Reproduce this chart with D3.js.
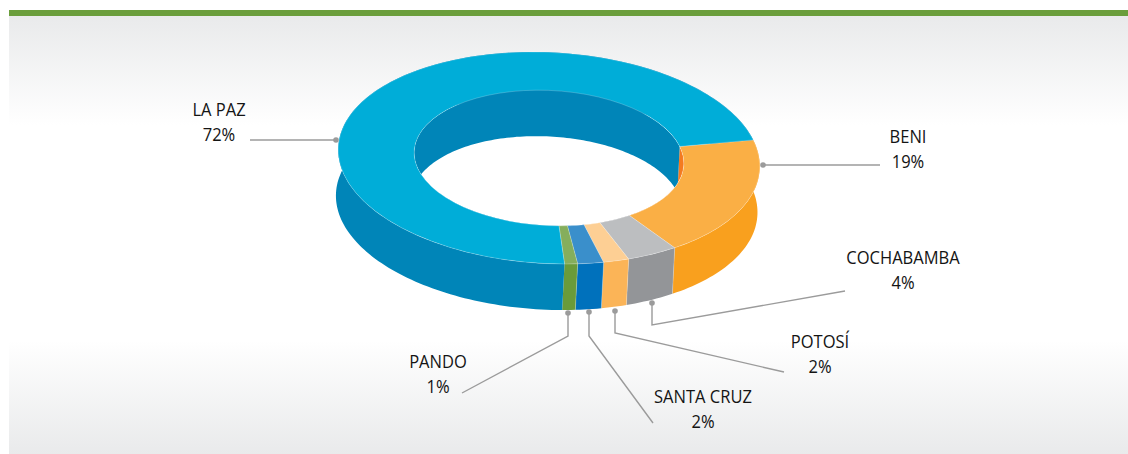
<!DOCTYPE html>
<html><head><meta charset="utf-8">
<script src="https://cdn.jsdelivr.net/npm/d3@7/dist/d3.min.js"></script>
<style>html,body{margin:0;padding:0;background:#fff}svg{display:block}text{font-family:"Open Sans",sans-serif;font-size:17.4px;fill:#141414;text-anchor:middle}</style>
</head><body><div id="c"></div>
<script>
const categories = ["BENI","COCHABAMBA","POTOSÍ","SANTA CRUZ","PANDO","LA PAZ"];
const values = [18.8,4,2,2,1,72.2];
const topColors = ["#FAAF45","#BCBEC0","#FDCF94","#3A8FCB","#85AE5C","#00ADD8"];
const wallColors = ["#F9A01E","#939598","#FBB457","#0071BC","#6A9B3A","#0085B8"];
const innerColors = ["#F47B20","#939598","#FBB457","#0071BC","#6A9B3A","#0085B8"];
const labelAnchors = [[908,143],[903,264],[820,348],[703,403],[438,368],[219,116]];
const leaders = [
 [[763,165],[880,165]],
 [[652,303],[652,325],[845,291]],
 [[615,311],[615,333],[784,372]],
 [[589,312],[589,336],[653,423]],
 [[568,313],[568,336],[462,393]],
 [[336,140],[250,140]]
];
const W=1128,H=454,cx=549,cy=158,rx=211,ry=105.6,tilt=3,hole=0.64,depth=46,shear=-2.3,startDeg=74.2;
const svg=d3.select("#c").append("svg").attr("width",W).attr("height",H);
const defs=svg.append("defs");
const g=defs.append("linearGradient").attr("id","bg").attr("x1",0).attr("x2",0).attr("y1",0).attr("y2",1);
[[0,"#e9eaeb"],[0.25,"#ffffff"],[0.74,"#ffffff"],[1,"#e9eaeb"]].forEach(s=>g.append("stop").attr("offset",s[0]).attr("stop-color",s[1]));
svg.append("rect").attr("x",9).attr("y",16).attr("width",W-9).attr("height",H-16).attr("fill","url(#bg)");
svg.append("rect").attr("x",9).attr("y",10).attr("width",W-9).attr("height",6).attr("fill","#6B9E3C");

const start=startDeg*Math.PI/180;
const arcs=d3.pie().sort(null).startAngle(start).endAngle(start+2*Math.PI)(values);
const phi=tilt*Math.PI/180;
function project(t,r,low){
  const u=r*rx*Math.sin(t),v=-r*ry*Math.cos(t);
  return [cx+u*Math.cos(phi)-v*Math.sin(phi)+(low?shear:0),cy+u*Math.sin(phi)+v*Math.cos(phi)+(low?depth:0)];
}
const line=d3.line();
function band(a,r){
  const n=Math.max(2,Math.ceil((a.endAngle-a.startAngle)*40));
  const ts=d3.range(n+1).map(i=>a.startAngle+(a.endAngle-a.startAngle)*i/n);
  return line(ts.map(t=>project(t,r,false)).concat(ts.slice().reverse().map(t=>project(t,r,true))))+"Z";
}
const arcGen=d3.arc().innerRadius(hole).outerRadius(1);
const holeGen=d3.arc().innerRadius(0).outerRadius(hole).startAngle(0).endAngle(2*Math.PI);
const xf=`translate(${cx},${cy}) rotate(${tilt}) scale(${rx},${ry})`;
defs.append("clipPath").attr("id","holeClip").append("path").attr("d",holeGen()).attr("transform",xf);

const pieG=svg.append("g");
pieG.selectAll(".wall").data(arcs).join("path").attr("class","wall").attr("d",d=>band(d,1)).attr("fill",(d,i)=>wallColors[i]);
pieG.selectAll(".sep").data(arcs.slice(1,5)).join("path").attr("class","sep")
  .attr("d",d=>line([project(d.startAngle,1,false),project(d.startAngle,1,true)]))
  .attr("stroke","#ffffff").attr("stroke-opacity",0.3).attr("stroke-width",0.8);
pieG.append("g").attr("clip-path","url(#holeClip)").selectAll(".inner").data(arcs).join("path").attr("class","inner").attr("d",d=>band(d,hole)).attr("fill",(d,i)=>innerColors[i]);
pieG.selectAll(".top").data(arcs).join("path").attr("class","top").attr("d",arcGen)
  .attr("transform",xf)
  .attr("fill",(d,i)=>topColors[i]).attr("stroke","#ffffff").attr("stroke-opacity",0.3).attr("stroke-width",0.7).attr("vector-effect","non-scaling-stroke");

const lg=svg.append("g");
lg.selectAll("path").data(leaders).join("path").attr("d",d=>line(d)).attr("fill","none").attr("stroke","#9b9b9b").attr("stroke-width",1.4);
lg.selectAll("circle").data(leaders).join("circle").attr("cx",d=>d[0][0]).attr("cy",d=>d[0][1]).attr("r",2.8).attr("fill","#9b9b9b");
const t=svg.append("g").selectAll("text").data(categories).join("text").attr("transform",(d,i)=>`translate(${labelAnchors[i][0]},${labelAnchors[i][1]}) scale(0.95,1)`);
t.append("tspan").attr("x",0).attr("y",0).text(d=>d);
t.append("tspan").attr("x",0).attr("y",25).text((d,i)=>d3.format(".0f")(values[i])+"%");
</script></body></html>
